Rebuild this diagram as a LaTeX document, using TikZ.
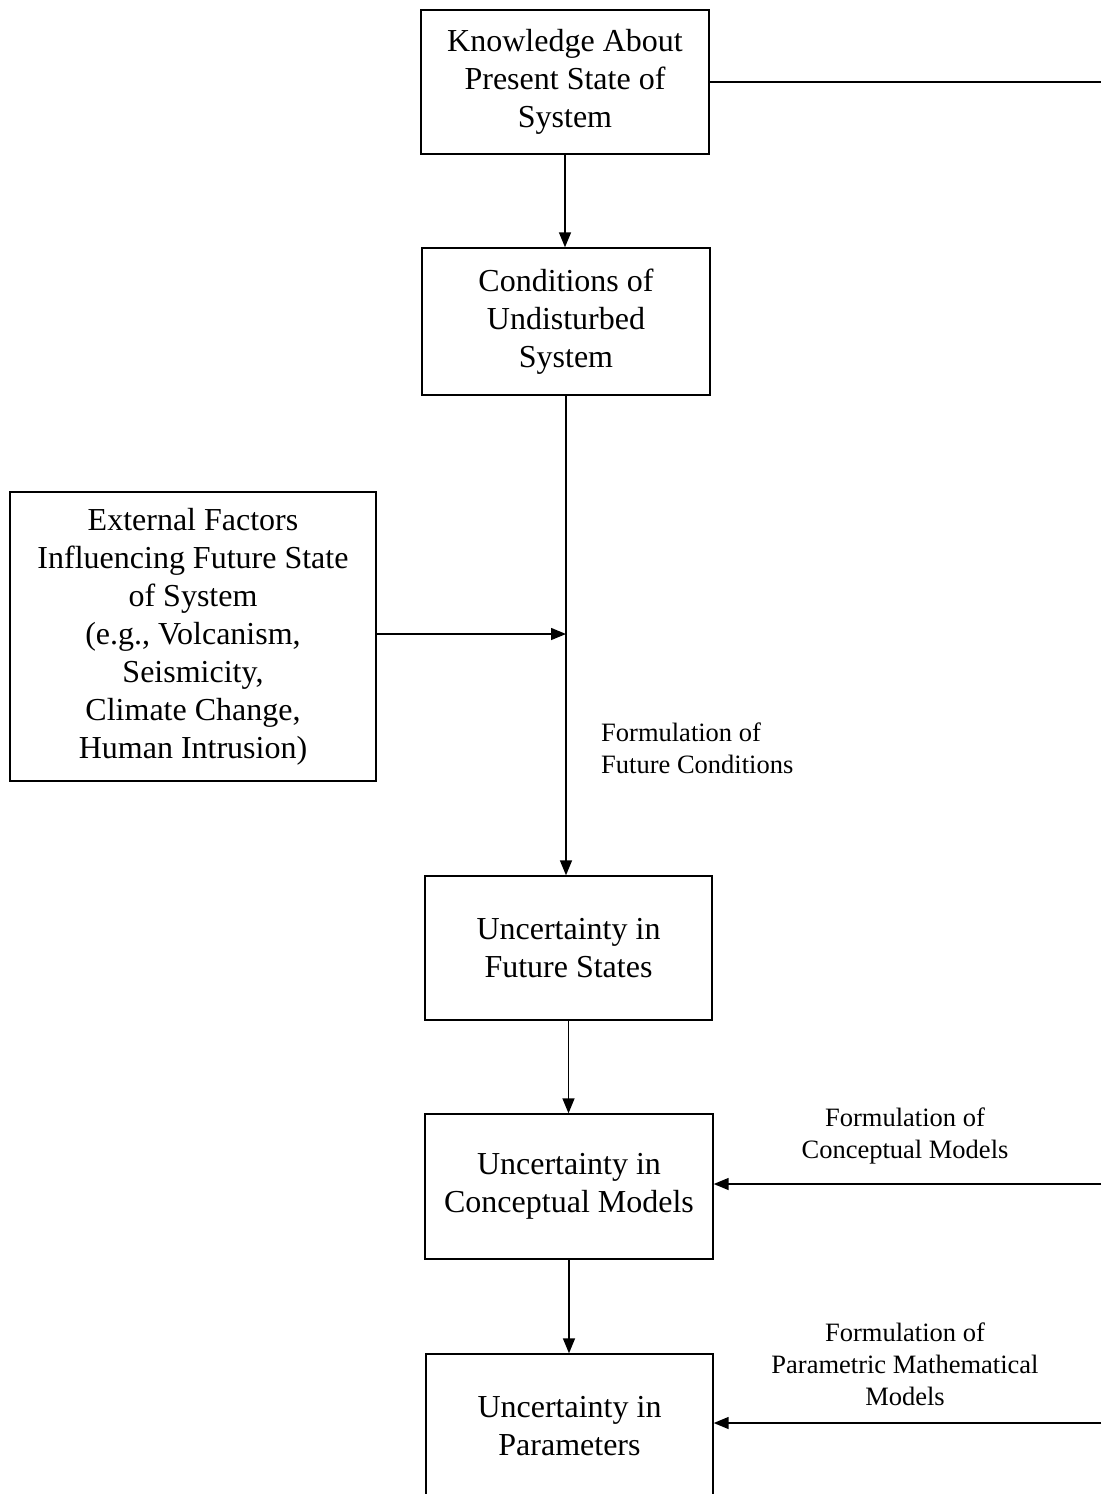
\documentclass[tikz,border=0pt]{standalone}
\usepackage{fontspec}
\setmainfont{Liberation Serif}
\usetikzlibrary{arrows.meta}
\tikzset{
  boxnode/.style={draw, line width=1.4pt, inner sep=0pt, align=center,
    font=\fontsize{32}{38}\selectfont},
  lbl/.style={inner sep=0pt, font=\fontsize{26.5}{32}\selectfont},
  conn/.style={line width=1.5pt},
  arr/.style={conn, -{Triangle[length=15pt,width=12pt]}}
}
\begin{document}
\begin{tikzpicture}[x=1pt,y=-1pt]
\useasboundingbox (0,0) rectangle (1101,1494);
\node[boxnode, minimum width=288pt, minimum height=144pt] (b1) at (565,82)
  {Knowledge About\\Present State of\\System};
\node[boxnode, minimum width=288pt, minimum height=147pt] (b2) at (566,321.5)
  {Conditions of\\Undisturbed\\System};
\node[boxnode, minimum width=366pt, minimum height=289pt] (b3) at (193,636.5)
  {External Factors\\Influencing Future State\\of System\\(e.g., Volcanism,\\Seismicity,\\Climate Change,\\Human Intrusion)};
\node[boxnode, minimum width=287pt, minimum height=144pt] (b4) at (568.5,948)
  {Uncertainty in\\Future States};
\node[boxnode, minimum width=288pt, minimum height=145pt] (b5) at (569,1186.5)
  {Uncertainty in\\Conceptual Models};
\node[boxnode, minimum width=287pt, minimum height=144pt] (b6) at (569.5,1426)
  {Uncertainty in\\Parameters};

\node[lbl, anchor=west, align=left] (l1) at (601,748)
  {Formulation of\\Future Conditions};
\node[lbl, align=center] (l2) at (905,1136)
  {Formulation of\\Conceptual Models};
\node[lbl, align=center] (l3) at (905,1364)
  {Formulation of\\Parametric Mathematical\\Models};

\coordinate (r1) at (1101,82);
\coordinate (r2) at (1101,1184);
\coordinate (r3) at (1101,1423);
\coordinate (j) at (566,634);

\draw[arr] (b1.south) -- (b1.south |- b2.north);
\draw[arr] (b2.south) -- (b2.south |- b4.north);
\draw[arr] (b3.east |- j) -- (j);
\draw[arr] (b4.south) -- (b4.south |- b5.north);
\draw[arr] (b5.south) -- (b5.south |- b6.north);
\draw[conn] (b1.east) -- (r1);
\draw[arr] (r2) -- (b5.east |- r2);
\draw[arr] (r3) -- (b6.east |- r3);
\end{tikzpicture}
\end{document}
